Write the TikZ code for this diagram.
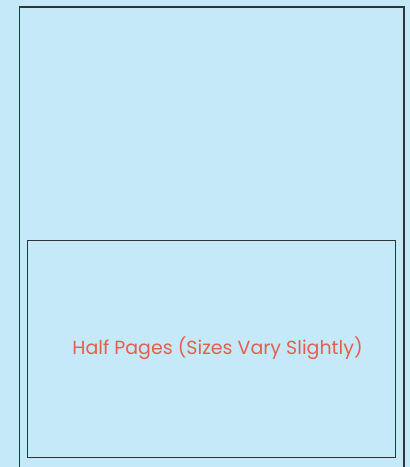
\documentclass[tikz,border=0pt]{standalone}
\usepackage{fontspec}
\setmainfont{Poppins}
\definecolor{bg}{HTML}{C6E9F9}
\definecolor{edge}{HTML}{2E3438}
\definecolor{txt}{HTML}{E5604C}
\begin{document}
\begin{tikzpicture}[x=1pt,y=-1pt,
  pagebox/.style={draw=edge,line width=1.4pt}]
\fill[bg] (0,0) rectangle (410,467);
\useasboundingbox (0,0) rectangle (410,467);
\coordinate (otl) at (19.5,6.8);
\coordinate (otr) at (403.8,6.8);
\coordinate (obl) at (19.5,470);
\coordinate (obr) at (403.8,470);
\draw[pagebox] (obl) -- (otl) -- (otr) -- (obr);
\draw[pagebox] (27.5,240.2) rectangle (395.6,457.6);
\node[text=txt,font=\fontsize{19}{22}\selectfont,inner sep=0pt] (label) at (217.5,348) {Half Pages (Sizes Vary Slightly)};
\end{tikzpicture}
\end{document}
